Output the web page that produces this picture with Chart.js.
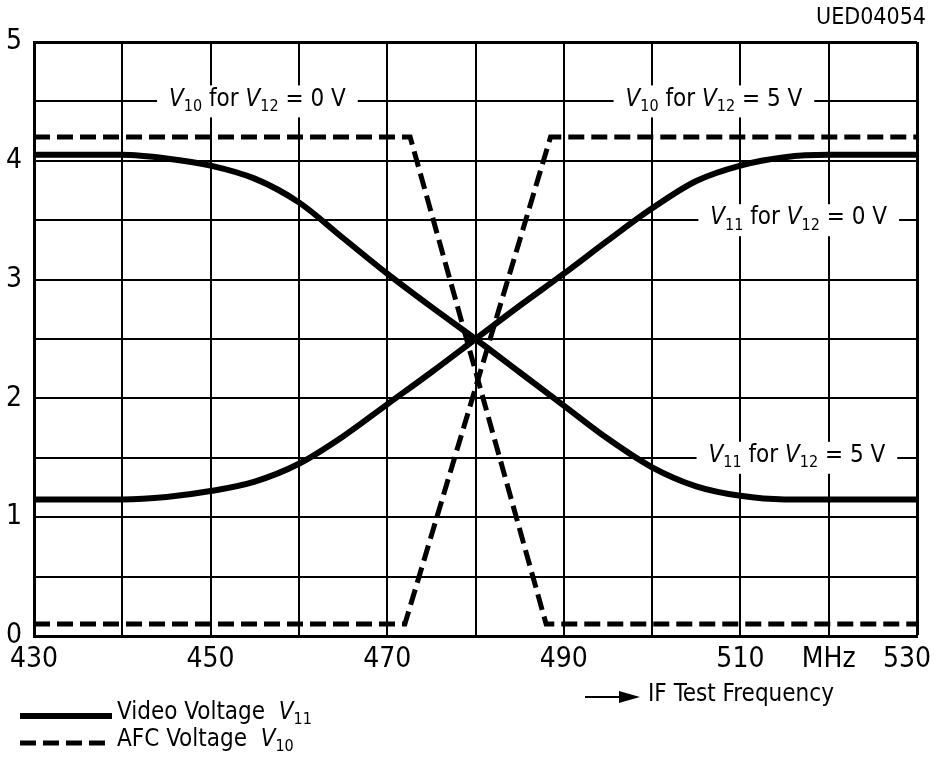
<!DOCTYPE html>
<html>
<head>
<meta charset="utf-8">
<script src="https://cdn.jsdelivr.net/npm/chart.js@4/dist/chart.umd.min.js"></script>
<style>
  html, body { margin: 0; padding: 0; background: #fff; }
  #wrap { width: 935px; height: 762px; }
</style>
</head>
<body>
<div id="wrap"><canvas id="chart"></canvas></div>
<script>
const frequencies = [430, 440, 445, 450, 455, 460, 465, 470, 475, 480, 485, 490, 495, 500, 505, 510, 515, 520, 530];
const videoFalling = [4.05, 4.05, 4.02, 3.96, 3.85, 3.65, 3.35, 3.05, 2.77, 2.5, 2.22, 1.94, 1.66, 1.42, 1.26, 1.18, 1.15, 1.15, 1.15];
const videoRising = [1.15, 1.15, 1.17, 1.22, 1.30, 1.45, 1.68, 1.95, 2.22, 2.5, 2.78, 3.05, 3.33, 3.6, 3.83, 3.96, 4.03, 4.05, 4.05];

const afcFallingFreq = [430, 472.6, 488, 530];
const afcFallingValues = [4.2, 4.2, 0.1, 0.1];
const afcRisingFreq = [430, 472, 488.5, 530];
const afcRisingValues = [0.1, 0.1, 4.2, 4.2];

const xTickValues = [430, 450, 470, 490, 510, 520, 530];
const xTickLabels = ['430', '450', '470', '490', '510', 'MHz', '530'];
const yTickValues = [0, 1, 2, 3, 4, 5];
const yTickLabels = ['0', '1', '2', '3', '4', '5'];

const FONT = '"DejaVu Sans Condensed", "Liberation Sans Narrow", sans-serif';

// labels sitting on the grid, in data coordinates
const curveLabels = [
  { x: 455.3, y: 4.5, v: '10', tail: '0 V' },
  { x: 507.0, y: 4.5, v: '10', tail: '5 V' },
  { x: 516.6, y: 3.5, v: '11', tail: '0 V' },
  { x: 516.4, y: 1.5, v: '11', tail: '5 V' }
];

function toPoints(xs, ys) {
  return xs.map((x, i) => ({ x: x, y: ys[i] }));
}

function drawRich(ctx, parts, x, y, size, align, measureOnly) {
  const subSize = Math.round(size * 0.68);
  const fontFor = (p) => {
    if (p[1] === 'i') return 'italic ' + size + 'px ' + FONT;
    if (p[1] === 's') return subSize + 'px ' + FONT;
    return size + 'px ' + FONT;
  };
  let total = 0;
  parts.forEach((p) => {
    ctx.font = fontFor(p);
    total += ctx.measureText(p[0]).width;
  });
  if (measureOnly) return total;
  let cx = align === 'center' ? x - total / 2 : x;
  ctx.textBaseline = 'middle';
  ctx.textAlign = 'left';
  parts.forEach((p) => {
    ctx.font = fontFor(p);
    ctx.fillText(p[0], cx, p[1] === 's' ? y + size * 0.3 : y);
    cx += ctx.measureText(p[0]).width;
  });
  return total;
}

function labelParts(v, tail) {
  return [['V', 'i'], [v, 's'], [' for ', 'n'], ['V', 'i'], ['12', 's'], [' = ' + tail, 'n']];
}

const extrasPlugin = {
  id: 'extras',
  beforeDatasetsDraw(chart) {
    const ctx = chart.ctx;
    const xs = chart.scales.x;
    const ys = chart.scales.y;
    ctx.save();
    curveLabels.forEach((l) => {
      const px = xs.getPixelForValue(l.x);
      const py = ys.getPixelForValue(l.y);
      const w = drawRich(ctx, labelParts(l.v, l.tail), px, py, 24, 'center', true);
      ctx.fillStyle = '#fff';
      ctx.fillRect(px - w / 2 - 12, py - 16, w + 24, 32);
      ctx.fillStyle = '#000';
      drawRich(ctx, labelParts(l.v, l.tail), px, py - 2, 24, 'center');
    });
    ctx.restore();
  },
  afterDraw(chart) {
    const ctx = chart.ctx;
    const xs = chart.scales.x;
    ctx.save();
    ctx.fillStyle = '#000';
    ctx.strokeStyle = '#000';

    // x tick labels, kept inside the page at the edges
    ctx.font = '28px ' + FONT;
    ctx.textBaseline = 'middle';
    xTickValues.forEach((v, i) => {
      const w = ctx.measureText(xTickLabels[i]).width;
      let px = xs.getPixelForValue(v);
      px = Math.max(w / 2 + 1, Math.min(935 - w / 2 - 4, px));
      ctx.textAlign = 'center';
      ctx.fillText(xTickLabels[i], px, xs.bottom - 16);
    });

    // drawing number
    ctx.font = '23px ' + FONT;
    ctx.textAlign = 'right';
    ctx.fillText('UED04054', 926, 18);

    // axis title with arrow
    ctx.lineWidth = 2;
    ctx.beginPath();
    ctx.moveTo(585, 697);
    ctx.lineTo(625, 697);
    ctx.stroke();
    ctx.beginPath();
    ctx.moveTo(640, 697);
    ctx.lineTo(619, 691);
    ctx.lineTo(619, 703);
    ctx.closePath();
    ctx.fill();
    ctx.font = '24px ' + FONT;
    ctx.textAlign = 'left';
    ctx.fillText('IF Test Frequency', 648, 695);

    // legend
    ctx.lineWidth = 6;
    ctx.beginPath();
    ctx.moveTo(20, 716);
    ctx.lineTo(112, 716);
    ctx.stroke();
    ctx.lineWidth = 5;
    ctx.setLineDash([16, 7]);
    ctx.beginPath();
    ctx.moveTo(20, 743);
    ctx.lineTo(110, 743);
    ctx.stroke();
    ctx.setLineDash([]);
    drawRich(ctx, [['Video Voltage  ', 'n'], ['V', 'i'], ['11', 's']], 117, 713, 24, 'left');
    drawRich(ctx, [['AFC Voltage  ', 'n'], ['V', 'i'], ['10', 's']], 117, 740, 24, 'left');
    ctx.restore();
  }
};

const ctx = document.getElementById('chart').getContext('2d');
new Chart(ctx, {
  type: 'line',
  data: {
    datasets: [
      {
        label: 'Video Voltage V11 (V12 = 0 V)',
        data: toPoints(frequencies, videoFalling),
        borderColor: '#000',
        borderWidth: 6,
        pointRadius: 0,
        cubicInterpolationMode: 'monotone',
        fill: false
      },
      {
        label: 'Video Voltage V11 (V12 = 5 V)',
        data: toPoints(frequencies, videoRising),
        borderColor: '#000',
        borderWidth: 6,
        pointRadius: 0,
        cubicInterpolationMode: 'monotone',
        fill: false
      },
      {
        label: 'AFC Voltage V10 (V12 = 0 V)',
        data: toPoints(afcFallingFreq, afcFallingValues),
        borderColor: '#000',
        borderWidth: 5,
        borderDash: [16, 7],
        pointRadius: 0,
        tension: 0,
        fill: false
      },
      {
        label: 'AFC Voltage V10 (V12 = 5 V)',
        data: toPoints(afcRisingFreq, afcRisingValues),
        borderColor: '#000',
        borderWidth: 5,
        borderDash: [16, 7],
        pointRadius: 0,
        tension: 0,
        fill: false
      }
    ]
  },
  options: {
    responsive: true,
    maintainAspectRatio: false,
    animation: false,
    layout: {
      padding: { top: 42, right: 18, bottom: 86, left: 0 }
    },
    scales: {
      x: {
        type: 'linear',
        min: 430,
        max: 530,
        afterFit: (scale) => {
          scale.height = 40;
          scale.paddingLeft = 0;
          scale.paddingRight = 0;
        },
        ticks: {
          stepSize: 10,
          display: false,
          autoSkip: false
        },
        grid: {
          color: '#000',
          lineWidth: (c) => (c.tick && c.tick.value === 530 ? 3 : 2),
          drawTicks: false
        },
        border: { color: '#000', width: 3 }
      },
      y: {
        min: 0,
        max: 5,
        afterFit: (scale) => {
          scale.width = 34;
          scale.paddingTop = 0;
          scale.paddingBottom = 0;
        },
        ticks: {
          stepSize: 0.5,
          color: '#000',
          padding: 12,
          font: { family: FONT, size: 28 },
          callback: (value) => {
            const i = yTickValues.indexOf(value);
            return i >= 0 ? yTickLabels[i] : '';
          }
        },
        grid: {
          color: '#000',
          lineWidth: (c) => (c.tick && c.tick.value === 5 ? 3 : 2),
          drawTicks: false
        },
        border: { color: '#000', width: 3 }
      }
    },
    plugins: {
      legend: { display: false },
      tooltip: { enabled: false }
    }
  },
  plugins: [extrasPlugin]
});
</script>
</body>
</html>
